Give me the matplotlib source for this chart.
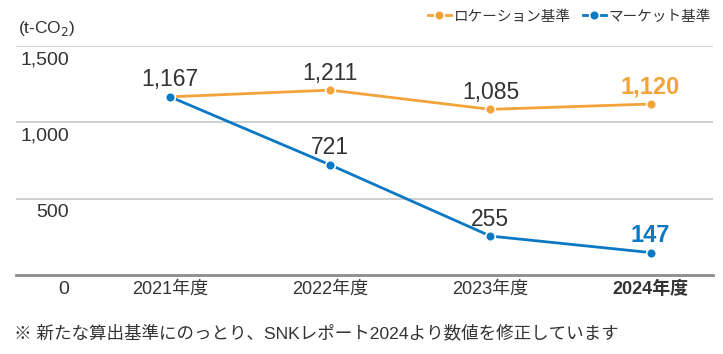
import matplotlib.pyplot as plt

plt.rcParams["font.family"] = ["Liberation Sans", "Noto Sans CJK JP", "DejaVu Sans"]

years = ["2021年度", "2022年度", "2023年度", "2024年度"]
location = [1167, 1211, 1085, 1120]
market = [1167, 721, 255, 147]
yticks = [0, 500, 1000, 1500]

orange = "#F2A33A"
blue = "#0A78C2"
text_c = "#333333"

fig = plt.figure(figsize=(7.23, 3.54), dpi=100)
ax = fig.add_axes([16 / 723, 1 - 275 / 354, 697 / 723, 229 / 354])

x = range(len(years))
ax.plot(x, location, color=orange, lw=2, marker="o", ms=7, mec="white", mew=1.2,
        label="ロケーション基準", clip_on=False, zorder=3)
ax.plot(x, market, color=blue, lw=2, marker="o", ms=7, mec="white", mew=1.2,
        label="マーケット基準", clip_on=False, zorder=4)

ax.set_xlim(-0.9625, 3.39)
ax.set_ylim(0, 1500)

# gridlines and y labels (under each line)
for v in yticks[1:]:
    ax.axhline(v, color="#CCCCCC", lw=1.3, zorder=1)
for v in yticks:
    ax.annotate(f"{v:,}", (0.076, v), xycoords=ax.get_yaxis_transform(),
                xytext=(0, -4), textcoords="offset points", ha="right", va="top",
                fontsize=14, color=text_c)

# data labels
last = len(years) - 1
for i, v in enumerate(location):
    bold = i == last
    ax.annotate(f"{v:,}", (i, v), xytext=(0, 4), textcoords="offset points",
                ha="center", va="bottom", fontsize=17 if bold else 16.5,
                fontweight="bold" if bold else "normal",
                color=orange if bold else text_c)
for i, v in enumerate(market):
    if i == 0:
        continue
    bold = i == last
    ax.annotate(f"{v:,}", (i, v), xytext=(0, 4), textcoords="offset points",
                ha="center", va="bottom", fontsize=17 if bold else 16.5,
                fontweight="bold" if bold else "normal",
                color=blue if bold else text_c)

ax.set_xticks(list(x))
ax.set_xticklabels(years, fontsize=13, color=text_c)
ax.get_xticklabels()[last].set_fontweight("bold")
ax.tick_params(axis="x", length=0, pad=4)
ax.set_yticks([])
for s in ["top", "left", "right"]:
    ax.spines[s].set_visible(False)
ax.spines["bottom"].set_color("#8C8C8C")
ax.spines["bottom"].set_linewidth(2)

fig.text(18 / 723, 1 - 28 / 354, "(t-CO$_2$)", fontsize=12.5, color=text_c, va="center")
fig.text(14 / 723, 1 - 333 / 354, "※ 新たな算出基準にのっとり、SNKレポート2024より数値を修正しています",
         fontsize=12.6, color=text_c, va="center")

fig.legend(loc="upper right", bbox_to_anchor=(1.002, 1.01), ncol=2, frameon=False,
           fontsize=10.5, handlelength=1.6, handletextpad=0.2, columnspacing=0.8,
           labelcolor=text_c)

fig.savefig("out.png", dpi=100)
